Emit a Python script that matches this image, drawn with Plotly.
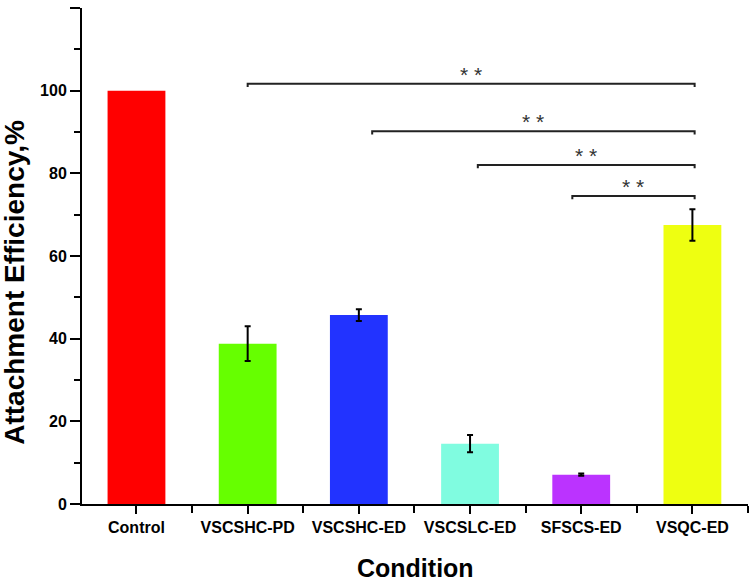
import plotly.graph_objects as go

categories = ["Control", "VSCSHC-PD", "VSCSHC-ED", "VSCSLC-ED", "SFSCS-ED", "VSQC-ED"]
values = [100, 38.8, 45.7, 14.6, 7.1, 67.5]
errors = [None, 4.2, 1.4, 2.1, 0.25, 3.8]
colors = ["#FF0000", "#66FF00", "#2233FF", "#80FCE0", "#BB33FF", "#EEFF11"]

# significance brackets: start, end, height, label
brackets_x0 = [1.0, 2.12, 3.07, 3.92]
brackets_x1 = [5.02, 5.02, 5.02, 5.02]
brackets_y = [101.7, 90.2, 82.0, 74.5]
brackets_label = ["* *", "* *", "* *", "* *"]

y_ticks = [0, 20, 40, 60, 80, 100, 120]

font_family = "Liberation Sans, Arial, sans-serif"
x_pos = list(range(len(categories)))

fig = go.Figure()
fig.add_trace(go.Bar(
    x=x_pos, y=values, width=0.52,
    marker=dict(color=colors, line=dict(width=0)),
    showlegend=False, hoverinfo="x+y",
))
err_idx = [i for i, e in enumerate(errors) if e is not None]
fig.add_trace(go.Scatter(
    x=[x_pos[i] for i in err_idx], y=[values[i] for i in err_idx],
    mode="markers", marker=dict(size=0.1, color="rgba(0,0,0,0)"),
    error_y=dict(type="data", array=[errors[i] for i in err_idx], visible=True,
                 color="black", thickness=2, width=3),
    showlegend=False, hoverinfo="skip",
))

for x0, x1, y, lab in zip(brackets_x0, brackets_x1, brackets_y, brackets_label):
    fig.add_shape(type="path",
                  path=f"M {x0},{y-0.8} L {x0},{y} L {x1},{y} L {x1},{y-0.8}",
                  xref="x", yref="y", line=dict(color="#222222", width=2))
    fig.add_annotation(x=(x0 + x1) / 2, y=y, text=lab, showarrow=False,
                       xref="x", yref="y", yanchor="bottom", yshift=-4,
                       font=dict(family=font_family, size=21, color="#333333"))

# axis titles
fig.add_annotation(text="<b>Attachment Efficiency,%</b>", textangle=-90,
                   xref="paper", yref="paper", x=0, y=0.446, xanchor="center", yanchor="middle",
                   xshift=-67, showarrow=False,
                   font=dict(family=font_family, size=28, color="black"))
fig.add_annotation(text="<b>Condition</b>",
                   xref="paper", yref="paper", x=0.5, y=0, xanchor="center", yanchor="top",
                   yshift=-48, showarrow=False,
                   font=dict(family=font_family, size=25, color="black"))

fig.update_layout(
    width=750, height=581,
    margin=dict(l=82, r=2, t=8, b=77),
    paper_bgcolor="white", plot_bgcolor="white",
    font=dict(family=font_family, color="black"),
)
fig.update_xaxes(
    range=[-0.49, 5.5], tickvals=x_pos, ticktext=[f"<b>{c}</b>" for c in categories],
    tickfont=dict(size=16, family=font_family, color="black"),
    showline=True, linecolor="black", linewidth=2, mirror=False,
    ticks="outside", ticklen=8, tickwidth=2, tickcolor="black",
    minor=dict(tickvals=[0.5, 1.5, 2.5, 3.5, 4.5, 5.5], ticks="outside", ticklen=7,
               tickwidth=2, tickcolor="black"),
    showgrid=False, zeroline=False, automargin=False,
)
fig.update_yaxes(
    range=[0, 120],
    tickvals=y_ticks, ticktext=[f"<b>{v}</b>" for v in y_ticks],
    tickfont=dict(size=16, family=font_family, color="black"),
    showline=True, linecolor="black", linewidth=2,
    ticks="outside", ticklen=10, tickwidth=2, tickcolor="black",
    minor=dict(dtick=10, tick0=0, ticks="outside", ticklen=6, tickwidth=2, tickcolor="black"),
    showgrid=False, zeroline=False, automargin=False,
)

fig.write_html("out.html", config={"displayModeBar": False},
               post_script="document.body.style.margin='0';document.body.style.overflow='hidden';")
